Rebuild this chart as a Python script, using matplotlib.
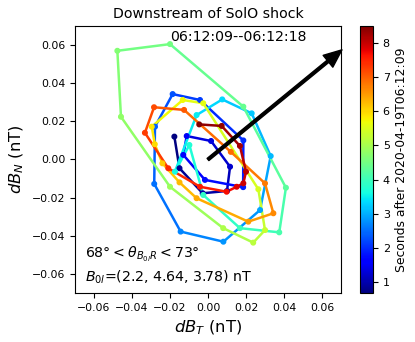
import numpy as np
import matplotlib
matplotlib.use('Agg')
import matplotlib.pyplot as plt
from matplotlib.collections import LineCollection

# hodogram of downstream fluctuations (nT), sampled along time
dBT = [-0.0177, -0.0150, -0.0028, 0.0100, 0.0116, 0.0016, -0.0112, -0.0130,
       -0.0016, 0.0185, 0.0186, -0.0042, -0.0186, -0.0279, -0.0283,
       -0.0144, 0.0081, 0.0274, 0.0330, 0.0230, 0.0075, -0.0060, -0.0174,
       -0.0098, -0.0025, 0.0168, 0.0375, 0.0410, 0.0186, -0.0200, -0.0477,
       -0.0458, -0.0200, 0.0080, 0.0238, 0.0300, 0.0265, -0.0025,
       -0.0133, -0.0296, -0.0280, -0.0240, -0.0150, -0.0060, 0.0212, 0.0344,
       0.0300, 0.0120, -0.0126, -0.0284, -0.0332, -0.0209, -0.0042, 0.0098,
       0.0151, 0.0186, 0.0200, 0.0168, 0.0072, -0.0046]
dBN = [0.0120, -0.0046, -0.0177, -0.0165, -0.0038, 0.0097, 0.0123, 0.0024,
       -0.0107, -0.0145, 0.0100, 0.0312, 0.0343, 0.0172, -0.0128,
       -0.0378, -0.0431, -0.0265, 0.0018, 0.0242, 0.0315, 0.0233, -0.0064,
       0.0076, -0.0186, -0.0360, -0.0382, -0.0148, 0.0277, 0.0605, 0.0570,
       0.0224, -0.0143, -0.0360, -0.0436, -0.0370, -0.0156, 0.0295,
       0.0312, 0.0172, 0.0080, -0.0020, -0.0120, -0.0203, -0.0326, -0.0282,
       -0.0125, 0.0040, 0.0260, 0.0274, 0.0140, -0.0046, -0.0143, -0.0169,
       -0.0143, -0.0125, -0.0064, 0.0071, 0.0176, 0.0184]
t_start, t_end = 0.68, 8.5   # seconds after 06:12:09
normal_vec = [0.0705, 0.0575]  # arrow direction in (T, N)

x = np.array(dBT)
y = np.array(dBN)
t = np.linspace(t_start, t_end, len(x))

fig = plt.figure(figsize=(4.15, 3.42), dpi=100)
ax = fig.add_axes([0.1807, 0.1433, 0.641, 0.7807])
cax = fig.add_axes([0.8675, 0.1433, 0.0313, 0.7807])

norm = plt.Normalize(t.min(), t.max())
pts = np.column_stack([x, y]).reshape(-1, 1, 2)
segs = np.concatenate([pts[:-1], pts[1:]], axis=1)
lc = LineCollection(segs, cmap='jet', norm=norm, linewidths=1.8)
lc.set_array(t[:-1])
ax.add_collection(lc)
sc = ax.scatter(x, y, c=t, cmap='jet', norm=norm, s=11, zorder=3)

ax.annotate('', xy=(normal_vec[0], normal_vec[1]), xytext=(0, 0),
            arrowprops=dict(facecolor='black', edgecolor='black', width=2,
                            headwidth=11, headlength=13),
            annotation_clip=False, zorder=4)

ax.set_xlim(-0.07, 0.07)
ax.set_ylim(-0.07, 0.07)
ax.set_xticks([-0.06, -0.04, -0.02, 0.0, 0.02, 0.04, 0.06])
ax.set_yticks([-0.06, -0.04, -0.02, 0.0, 0.02, 0.04, 0.06])
ax.tick_params(labelsize=7.8)
ax.set_xlabel(r'$dB_T$ (nT)', fontsize=11.8)
ax.set_ylabel(r'$dB_N$ (nT)', fontsize=11.8)
ax.set_title('Downstream of SolO shock', fontsize=10.2)

ax.text(-0.02, 0.064, '06:12:09--06:12:18', fontsize=10.2, va='center')
ax.text(-0.0647, -0.050, r'$68\degree < \theta_{B_{0l}R} < 73\degree$',
        fontsize=10.2, va='center')
ax.text(-0.0647, -0.0616, r'$B_{0l}$=(2.2, 4.64, 3.78) nT',
        fontsize=10.2, va='center')

cb = fig.colorbar(sc, cax=cax)
cb.set_ticks([1, 2, 3, 4, 5, 6, 7, 8])
cb.ax.tick_params(labelsize=8)
cb.set_label('Seconds after 2020-04-19T06:12:09', fontsize=8.9)

fig.savefig('out.png', dpi=100)
